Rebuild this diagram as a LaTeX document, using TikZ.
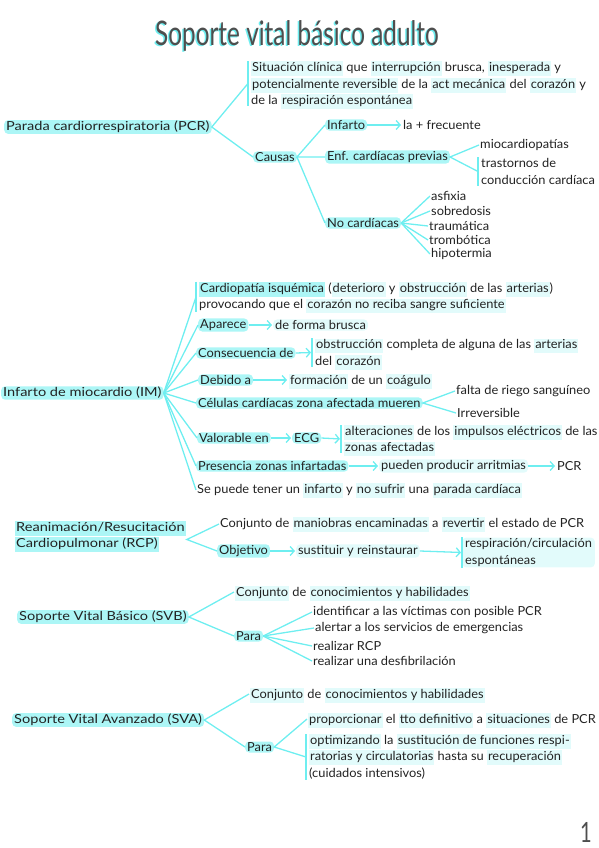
\documentclass[tikz,border=0pt]{standalone}
\usepackage{fontspec}
\setmainfont{Lato}[FakeStretch=1.03]
\newfontfamily\titlefont[FakeStretch=0.72]{Lato}
\newfontfamily\temafont[FakeStretch=1.17]{Lato}
\usetikzlibrary{arrows.meta}
\definecolor{linea}{RGB}{110,238,240}
\definecolor{resalte}{RGB}{172,246,246}
\definecolor{suave}{RGB}{226,251,251}
\definecolor{tinta}{RGB}{34,34,34}
\newcommand{\hls}[1]{{\setlength{\fboxsep}{1pt}\smash{\colorbox{resalte}{\rule[-0.28em]{0pt}{1.02em}#1}}}}
\newcommand{\hlt}[1]{{\setlength{\fboxsep}{1pt}\smash{\colorbox{suave}{\rule[-0.28em]{0pt}{1.02em}#1}}}}

\begin{document}
\begin{tikzpicture}[x=1bp,y=-1bp,font=\fontsize{12.5}{16.5}\selectfont,text=tinta,
  every node/.style={inner sep=1pt},
  txt/.style={anchor=west},
  clave/.style={anchor=west,fill=resalte,rounded corners=4pt,inner xsep=2pt},
  tema/.style={clave,font=\temafont\fontsize{12.5}{17}\selectfont},
  tenue/.style={anchor=west,fill=suave,rounded corners=4pt,inner xsep=2pt},
  bloque/.style={anchor=west,align=left,inner xsep=3pt},
  rama/.style={draw=linea,line width=1.3pt},
  flecha/.style={rama,-{Straight Barb[length=4pt,width=9pt]},shorten >=1pt},
  barra/.style={draw=linea,line width=1.3pt}]
\useasboundingbox (0,0) rectangle (599,848);
% title
\node[text=linea,font=\titlefont\fontsize{34}{40}\selectfont] (sombra) at (295.5,37) {Soporte vital básico adulto};
\node[text=tinta!80,font=\titlefont\fontsize{34}{40}\selectfont] (titulo) at (297,35.5) {Soporte vital básico adulto};

% PCR
\node[tema] (pcr) at (4,127) {Parada cardiorrespiratoria (PCR)};
\node[bloque] (defpcr) at (248,83.5) {\hlt{Situación clínica} que \hlt{interrupción} brusca, \hlt{inesperada} y\\\hlt{potencialmente reversible} de la \hlt{act mecánica} del \hlt{corazón} y\\de la \hlt{respiración espontánea}};
\node[clave] (causas) at (253,157) {Causas};
\node[clave] (infarto) at (325,125) {Infarto};
\node[txt] (frecuente) at (402,125) {la + frecuente};
\node[clave] (enf) at (325,157) {Enf. cardíacas previas};
\node[txt] (mioc) at (479,145) {miocardiopatías};
\node[bloque] (trast) at (478,171.5) {trastornos de\\conducción cardíaca};
\node[clave] (nocard) at (325,223) {No cardíacas};
\node[txt] (asfixia) at (430,196) {asfixia};
\node[txt] (sobredosis) at (430,211) {sobredosis};
\node[txt] (traumatica) at (428,226) {traumática};
\node[txt] (trombotica) at (428,240) {trombótica};
\node[txt] (hipotermia) at (430,254) {hipotermia};
\draw[barra] (defpcr.north west) -- (defpcr.south west);
\draw[barra] (trast.north west) -- (trast.south west);
\draw[rama] (defpcr.west) -- (pcr.east) -- (causas.west);
\draw[rama] (infarto.west) -- (causas.east) -- (enf.west);
\draw[rama] (causas.east) -- (nocard.west);
\draw[flecha] (infarto.east) -- (frecuente.west);
\draw[rama] (mioc.west) -- (enf.east) -- (trast.west);
\foreach \n in {asfixia,sobredosis,traumatica,trombotica,hipotermia}
  \draw[rama] (nocard.east) -- (\n.west);

% IM
\node[tema] (im) at (1,393) {Infarto de miocardio (IM)};
\node[bloque] (cardio) at (196,297) {\hls{Cardiopatía isquémica} (\hlt{deterioro} y \hlt{obstrucción} de las \hlt{arterias})\\provocando que el \hlt{corazón no reciba sangre suficiente}};
\node[clave] (aparece) at (198,325) {Aparece};
\node[tenue] (brusca) at (273,325) {de forma brusca};
\node[clave] (consec) at (196,353) {Consecuencia de};
\node[bloque] (obstr) at (312,352.5) {\hlt{obstrucción} completa de alguna de las \hlt{arterias}\\del \hlt{corazón}};
\node[clave] (debido) at (198,380) {Debido a};
\node[txt] (coagulo) at (288,380) {\hlt{formación} de un \hlt{coágulo}};
\node[clave] (celulas) at (196,403) {Células cardíacas zona afectada mueren};
\node[txt] (riego) at (455,391) {falta de riego sanguíneo};
\node[txt] (irrev) at (456,413) {Irreversible};
\node[clave] (valor) at (197,438) {Valorable en};
\node[clave] (ecg) at (292,438) {ECG};
\node[bloque] (alter) at (341,439) {\hlt{alteraciones} de los \hlt{impulsos eléctricos} de las\\\hlt{zonas afectadas}};
\node[clave] (presencia) at (196,466) {Presencia zonas infartadas};
\node[tenue] (arritmias) at (379,466) {pueden producir arritmias};
\node[txt] (pcrfin) at (556,466) {PCR};
\node[txt] (sepuede) at (196,490) {Se puede tener un \hlt{infarto} y \hlt{no sufrir} una \hlt{parada cardíaca}};
\draw[barra] (cardio.north west) -- (cardio.south west);
\draw[barra] (obstr.north west) -- (obstr.south west);
\draw[barra] (alter.north west) -- (alter.south west);
\foreach \n in {cardio,aparece,consec,debido,celulas,valor,presencia,sepuede}
  \draw[rama] (im.east) -- (\n.west);
\draw[flecha] (aparece.east) -- (brusca.west);
\draw[flecha] (consec.east) -- (obstr.west);
\draw[flecha] (debido.east) -- (coagulo.west);
\draw[rama] (riego.west) -- (celulas.east) -- (irrev.west);
\draw[flecha] (valor.east) -- (ecg.west);
\draw[flecha] (ecg.east) -- (alter.west);
\draw[flecha] (presencia.east) -- (arritmias.west);
\draw[flecha] (arritmias.east) -- (pcrfin.west);

% RCP
\node[bloque,inner xsep=1pt,font=\temafont\fontsize{12.5}{17}\selectfont] (rcp) at (14,539.5) {\hls{Reanimación/Resucitación}\\\hls{Cardiopulmonar (RCP)}};
\node[txt] (maniobras) at (219,524) {Conjunto de \hlt{maniobras encaminadas} a \hlt{revertir} el estado de PCR};
\node[clave] (objetivo) at (217,551) {Objetivo};
\node[tenue] (sustituir) at (296,551) {sustituir y reinstaurar};
\node[bloque,fill=suave,rounded corners=4pt] (espont) at (462,552.5) {respiración/circulación\\espontáneas};
\draw[barra] (espont.north west) -- (espont.south west);
\draw[rama] (maniobras.west) -- (rcp.east) -- (objetivo.west);
\draw[flecha] (objetivo.east) -- (sustituir.west);
\draw[flecha] (sustituir.east) -- (espont.west);

% SVB
\node[tema] (svb) at (17,617) {Soporte Vital Básico (SVB)};
\node[txt] (conjb) at (234,592) {\hlt{Conjunto} de \hlt{conocimientos y habilidades}};
\node[clave] (parab) at (234,636) {Para};
\node[txt] (identificar) at (312,612) {identificar a las víctimas con posible PCR};
\node[txt] (alertar) at (314,628) {alertar a los servicios de emergencias};
\node[txt] (realizar) at (312,646) {realizar RCP};
\node[txt] (desfib) at (312,661) {realizar una desfibrilación};
\draw[rama] (conjb.west) -- (svb.east) -- (parab.west);
\foreach \n in {identificar,alertar,realizar,desfib}
  \draw[rama] (parab.east) -- (\n.west);

% SVA
\node[tema] (sva) at (12,720) {Soporte Vital Avanzado (SVA)};
\node[txt] (conja) at (249,694) {\hlt{Conjunto} de \hlt{conocimientos y habilidades}};
\node[clave] (paraa) at (245,747) {Para};
\node[txt] (proporcionar) at (307,719) {\hlt{proporcionar} el \hlt{tto definitivo} a \hlt{situaciones} de PCR};
\node[bloque] (optim) at (306,757) {\hlt{optimizando} la \hlt{sustitución de funciones respi-}\\\hlt{ratorias y circulatorias} hasta su \hlt{recuperación}\\(cuidados intensivos)};
\draw[barra] (optim.north west) -- (optim.south west);
\draw[rama] (conja.west) -- (sva.east) -- (paraa.west);
\draw[rama] (proporcionar.west) -- (paraa.east) -- (optim.west);

% page number
\node[font=\titlefont\fontsize{28}{30}\selectfont,text=tinta!80] (pagina) at (586,832) {1};
\end{tikzpicture}
\end{document}
